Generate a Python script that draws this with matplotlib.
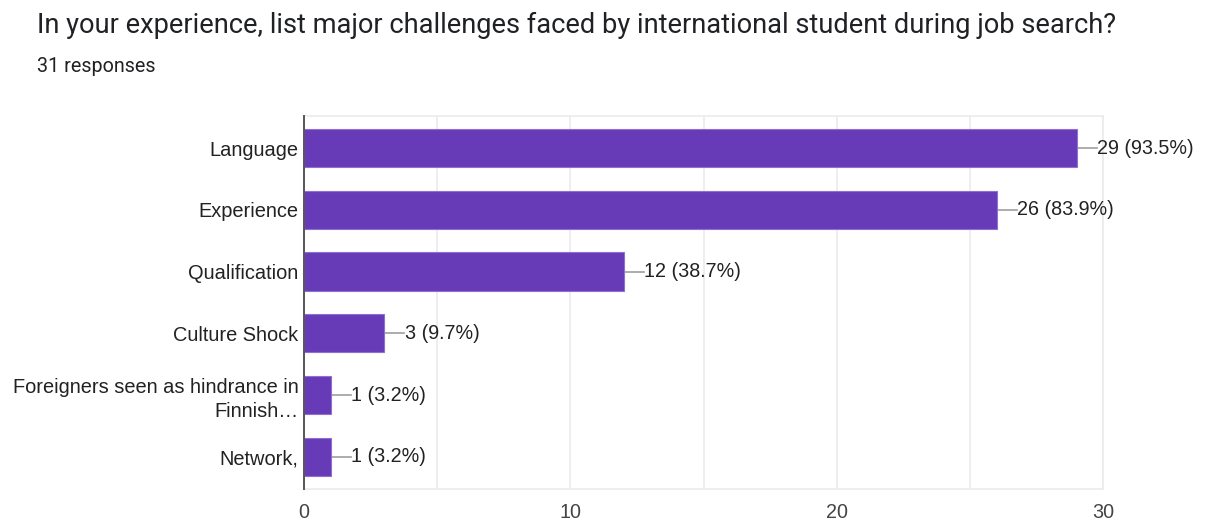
import numpy as np
import matplotlib.pyplot as plt

# survey answers
challenges = ["Language", "Experience", "Qualification", "Culture Shock",
              "Foreigners seen as hindrance in\nFinnish…", "Network,"]
counts = [29, 26, 12, 3, 1, 1]
total_responses = 31

bar_color = "#673ab7"
grid_color = "#ebebeb"
text_color = "#222222"

fig = plt.figure(figsize=(12.11, 5.24), dpi=100)
ax = fig.add_axes([0.251, 0.0668, 0.66, 0.712])

y = np.arange(len(challenges))
ax.barh(y, counts, height=0.62, color=bar_color, edgecolor="#8f6fd1",
        linewidth=0.8, zorder=3)

# leader line + count/percent label next to each bar
for yi, c in zip(y, counts):
    pct = c / total_responses * 100
    ax.plot([c, c + 0.75], [yi, yi], color="#9e9e9e", lw=1.2, zorder=2)
    ax.text(c + 0.78, yi, f"{c} ({pct:.1f}%)", va="center", ha="left",
            fontsize=14.2, color=text_color, family="Liberation Sans")

ax.set_xlim(0, 30)
ax.set_ylim(len(challenges) - 0.48, -0.52)
ax.set_yticks(y)
ax.set_yticklabels(challenges, fontsize=14.4, color=text_color,
                   family="Liberation Sans", linespacing=1.35)
ax.set_xticks([0, 10, 20, 30])
ax.set_xticklabels(["0", "10", "20", "30"], fontsize=14.2, color="#444444",
                   family="Liberation Sans")
ax.set_xticks(np.arange(0, 31, 5), minor=True)
ax.grid(axis="x", which="both", color=grid_color, lw=1.2, zorder=0)
ax.tick_params(axis="both", which="both", length=0, pad=4)
ax.tick_params(axis="x", pad=10)

for s in ["top", "bottom", "right"]:
    ax.spines[s].set_color(grid_color)
    ax.spines[s].set_linewidth(1.2)
ax.spines["left"].set_color("#555555")
ax.spines["left"].set_linewidth(1.4)
ax.spines["left"].set_zorder(4)

fig.text(0.0305, 0.952, "In your experience, list major challenges faced by international student during job search?",
         fontsize=19.6, color="#202124", family="Roboto", va="center")
fig.text(0.0305, 0.874, f"{total_responses} responses", fontsize=14.2,
         color="#202124", family="Roboto", va="center")

fig.savefig("out.png", dpi=100)
